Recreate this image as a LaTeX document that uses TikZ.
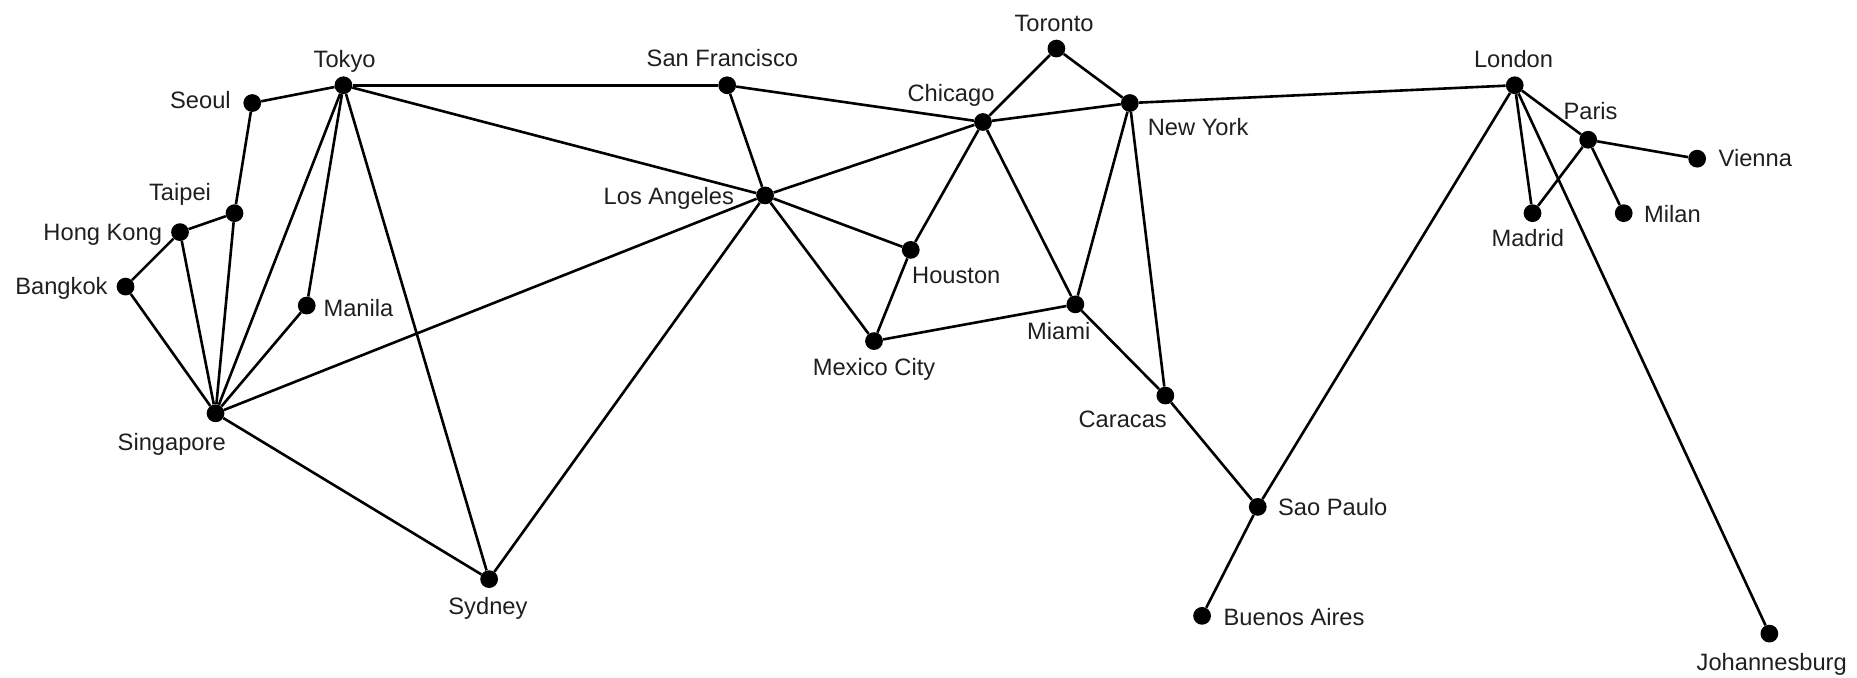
\documentclass[tikz,border=0pt]{standalone}
\usepackage{fontspec}
\setmainfont{Liberation Sans}
\begin{document}
\begin{tikzpicture}[x=1pt,y=-1pt,
  city/.style={circle,fill=black,inner sep=0pt,minimum size=15pt},
  lbl/.style={font=\fontsize{20}{24}\selectfont,inner sep=0pt,text=black!88},
  route/.style={line width=2.2pt,black}]
\useasboundingbox (0,0) rectangle (1568,572);
% cities
\node[city] (tokyo) at (290,72) {};
\node[city] (seoul) at (213,87) {};
\node[city] (taipei) at (198,180) {};
\node[city] (hongkong) at (152,196) {};
\node[city] (bangkok) at (106,242) {};
\node[city] (manila) at (259,258) {};
\node[city] (singapore) at (182,349) {};
\node[city] (sydney) at (413,489) {};
\node[city] (sanfrancisco) at (614,72) {};
\node[city] (losangeles) at (646,165) {};
\node[city] (chicago) at (830,103) {};
\node[city] (toronto) at (892,41) {};
\node[city] (newyork) at (954,87) {};
\node[city] (houston) at (769,211) {};
\node[city] (mexicocity) at (738,288) {};
\node[city] (miami) at (908,257) {};
\node[city] (caracas) at (984,334) {};
\node[city] (saopaulo) at (1062,428) {};
\node[city] (buenosaires) at (1015,520) {};
\node[city] (london) at (1279,72) {};
\node[city] (paris) at (1341,118) {};
\node[city] (vienna) at (1433,134) {};
\node[city] (madrid) at (1294,180) {};
\node[city] (milan) at (1371,180) {};
\node[city] (johannesburg) at (1494,535) {};
% labels
\node[lbl,anchor=base] (l-tokyo) at (291,57) {Tokyo};
\node[lbl,anchor=base east] (l-seoul) at (195,92) {Seoul};
\node[lbl,anchor=base] (l-taipei) at (152,169) {Taipei};
\node[lbl,anchor=base east] (l-hongkong) at (137,203) {Hong Kong};
\node[lbl,anchor=base east] (l-bangkok) at (91,249) {Bangkok};
\node[lbl,anchor=base west] (l-manila) at (273,267) {Manila};
\node[lbl,anchor=base] (l-singapore) at (145,380) {Singapore};
\node[lbl,anchor=base] (l-sydney) at (412,519) {Sydney};
\node[lbl,anchor=base] (l-sanfrancisco) at (610,56) {San Francisco};
\node[lbl,anchor=base east] (l-losangeles) at (620,173) {Los Angeles};
\node[lbl,anchor=base] (l-chicago) at (803,86) {Chicago};
\node[lbl,anchor=base] (l-toronto) at (890,27) {Toronto};
\node[lbl,anchor=base west] (l-newyork) at (969,114) {New York};
\node[lbl,anchor=base west] (l-houston) at (770,239) {Houston};
\node[lbl,anchor=base] (l-miami) at (894,287) {Miami};
\node[lbl,anchor=base] (l-mexicocity) at (738,317) {Mexico City};
\node[lbl,anchor=base] (l-caracas) at (948,361) {Caracas};
\node[lbl,anchor=base west] (l-saopaulo) at (1079,435) {Sao Paulo};
\node[lbl,anchor=base west] (l-buenosaires) at (1033,528) {Buenos Aires};
\node[lbl,anchor=base] (l-johannesburg) at (1496,566) {Johannesburg};
\node[lbl,anchor=base] (l-london) at (1278,57) {London};
\node[lbl,anchor=base] (l-paris) at (1343,101) {Paris};
\node[lbl,anchor=base west] (l-vienna) at (1451,141) {Vienna};
\node[lbl,anchor=base] (l-madrid) at (1290,208) {Madrid};
\node[lbl,anchor=base west] (l-milan) at (1388,188) {Milan};
% routes
\draw[route] (seoul) -- (tokyo);
\draw[route] (seoul) -- (taipei);
\draw[route] (taipei) -- (hongkong);
\draw[route] (taipei) -- (singapore);
\draw[route] (hongkong) -- (bangkok);
\draw[route] (hongkong) -- (singapore);
\draw[route] (bangkok) -- (singapore);
\draw[route] (tokyo) -- (singapore);
\draw[route] (tokyo) -- (manila);
\draw[route] (manila) -- (singapore);
\draw[route] (tokyo) -- (sydney);
\draw[route] (tokyo) -- (sanfrancisco);
\draw[route] (tokyo) -- (losangeles);
\draw[route] (singapore) -- (losangeles);
\draw[route] (singapore) -- (sydney);
\draw[route] (sydney) -- (losangeles);
\draw[route] (sanfrancisco) -- (chicago);
\draw[route] (sanfrancisco) -- (losangeles);
\draw[route] (losangeles) -- (chicago);
\draw[route] (losangeles) -- (houston);
\draw[route] (losangeles) -- (mexicocity);
\draw[route] (chicago) -- (toronto);
\draw[route] (chicago) -- (newyork);
\draw[route] (chicago) -- (houston);
\draw[route] (chicago) -- (miami);
\draw[route] (toronto) -- (newyork);
\draw[route] (newyork) -- (miami);
\draw[route] (newyork) -- (caracas);
\draw[route] (newyork) -- (london);
\draw[route] (houston) -- (mexicocity);
\draw[route] (mexicocity) -- (miami);
\draw[route] (miami) -- (caracas);
\draw[route] (caracas) -- (saopaulo);
\draw[route] (saopaulo) -- (london);
\draw[route] (saopaulo) -- (buenosaires);
\draw[route] (london) -- (paris);
\draw[route] (london) -- (madrid);
\draw[route] (london) -- (johannesburg);
\draw[route] (paris) -- (madrid);
\draw[route] (paris) -- (milan);
\draw[route] (paris) -- (vienna);
\end{tikzpicture}
\end{document}
